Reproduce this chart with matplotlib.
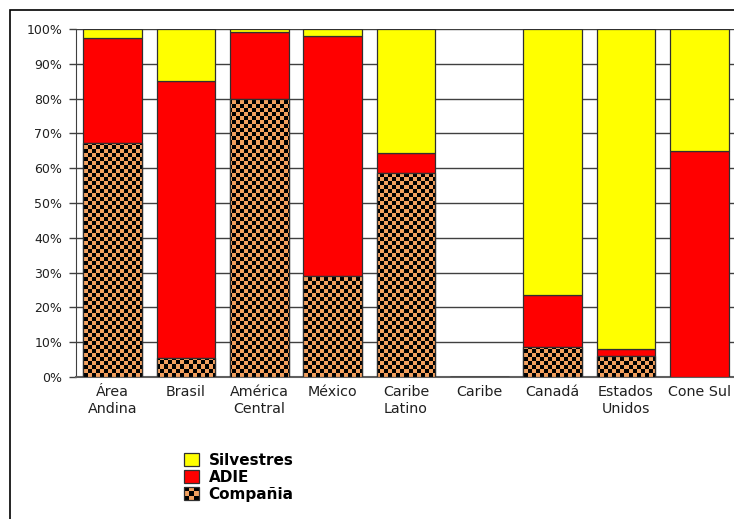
import numpy as np
import matplotlib
matplotlib.use("Agg")
import matplotlib.pyplot as plt
from matplotlib.patches import Rectangle, Patch
from matplotlib.legend_handler import HandlerBase

plt.rcParams['font.family'] = ['DejaVu Sans']

regioes = ["Área\nAndina", "Brasil", "América\nCentral", "México", "Caribe\nLatino",
           "Caribe", "Canadá", "Estados\nUnidos", "Cone Sul"]
compania = [67.2, 5.5, 80.0, 29.0, 58.5, 0.0, 8.5, 6.0, 0.0]
adie = [30.3, 79.5, 19.0, 69.0, 6.0, 0.0, 15.0, 2.0, 65.0]
silvestres = [2.5, 15.0, 1.0, 2.0, 35.5, 0.0, 76.5, 92.0, 35.0]

ORANGE = '#f2a05e'
W, H = 734, 519

fig = plt.figure(figsize=(W / 100, H / 100), dpi=100)
# outer frame of the original chart (only top/left visible)
fig.patches.append(Rectangle((10 / W, -0.1), 1.2, (H - 10) / H + 0.1, transform=fig.transFigure,
                             fill=False, ec='black', lw=1.2))

ax = fig.add_axes([76 / W, (H - 377) / H, 660 / W, 348 / H])
x = np.arange(len(regioes))
bw = 0.8

b1 = ax.bar(x, compania, bw, color=ORANGE, edgecolor='#303030', lw=0.9, zorder=3)
b2 = ax.bar(x, adie, bw, bottom=compania, color='#ff0000', edgecolor='#303030', lw=0.9, zorder=3)
bot2 = [c + a for c, a in zip(compania, adie)]
b3 = ax.bar(x, silvestres, bw, bottom=bot2, color='#ffff00', edgecolor='#303030', lw=0.9, zorder=3)

# checker pattern clipped to the Compañia bars
ny, nx = 87, 165
yy, xx = np.mgrid[0:ny, 0:nx]
checker = ((xx + yy) % 2).astype(float)
cmap = matplotlib.colors.ListedColormap(['black', ORANGE])
for rect, v in zip(b1, compania):
    if v <= 0:
        continue
    im = ax.imshow(checker, cmap=cmap, extent=(-0.5, len(regioes) - 0.5, 0, 100),
                   aspect='auto', interpolation='nearest', zorder=3.5, origin='lower')
    im.set_clip_path(rect)
    edge = Rectangle(rect.get_xy(), rect.get_width(), rect.get_height(), fill=False,
                     ec='#303030', lw=0.9, zorder=4)
    ax.add_patch(edge)
ax.set_xlim(-0.5, len(regioes) - 0.5)
ax.set_ylim(0, 100)

ax.set_yticks(np.arange(0, 101, 10))
ax.set_yticklabels([f"{v}%" for v in range(0, 101, 10)], fontsize=9, color='#202020')
ax.set_xticks(x)
ax.set_xticklabels(regioes, fontsize=10.3, color='#202020', va='top', linespacing=1.26)
ax.tick_params(axis='x', length=0, pad=6)
ax.tick_params(axis='y', length=5, width=1, color='#404040', pad=5)
ax.yaxis.grid(True, color='#404040', lw=1)
ax.set_axisbelow(True)
for s in ['top', 'right']:
    ax.spines[s].set_visible(False)
ax.spines['left'].set_color('#404040')
ax.spines['bottom'].set_color('#606060')
ax.spines['bottom'].set_linewidth(1.5)


class HandlerChecker(HandlerBase):
    def create_artists(self, legend, orig_handle, xdescent, ydescent, width, height, fontsize, trans):
        x0, y0 = -xdescent, -ydescent
        arts = [Rectangle((x0, y0), width, height, fc=ORANGE, ec='none', transform=trans)]
        n = 3
        for i in range(n):
            for j in range(n):
                if (i + j) % 2 == 0:
                    arts.append(Rectangle((x0 + i * width / n, y0 + j * height / n), width / n, height / n,
                                          fc='black', ec='none', transform=trans))
        arts.append(Rectangle((x0, y0), width, height, fill=False, ec='#303030', lw=0.9, transform=trans))
        return arts


h_silv = Patch(fc='#ffff00', ec='#303030', lw=0.9)
h_adie = Patch(fc='#ff0000', ec='#303030', lw=0.9)
h_comp = Patch(fc=ORANGE)
fig.legend([h_silv, h_adie, h_comp], ["Silvestres", "ADIE", "Compañia"],
           handler_map={h_comp: HandlerChecker()},
           loc='upper left', bbox_to_anchor=(184 / W, 1 - 453 / H), frameon=False,
           borderpad=0, borderaxespad=0, handlelength=0.95, handleheight=0.95,
           handletextpad=0.65, labelspacing=0.12, prop={'weight': 'bold', 'size': 11})

fig.savefig("out.png", dpi=100)
